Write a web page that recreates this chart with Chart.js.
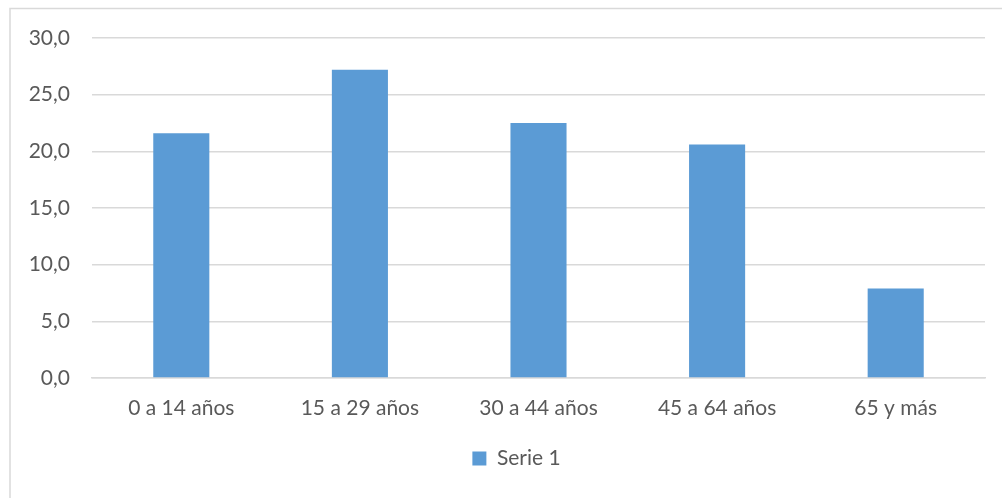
<!DOCTYPE html>
<html><head><meta charset="utf-8">
<script src="https://cdn.jsdelivr.net/npm/chart.js@4"></script>
<style>html,body{margin:0;padding:0;background:#fff;}#wrap{width:1002px;height:498px;position:relative;}</style>
</head><body><div id="wrap"><canvas id="c" width="1002" height="498"></canvas></div>
<script>
const categories = ["0 a 14 años", "15 a 29 años", "30 a 44 años", "45 a 64 años", "65 y más"];
const serie1 = [21.6, 27.2, 22.5, 20.6, 7.9];
const seriesName = "Serie 1";
const yTicks = [0, 5, 10, 15, 20, 25, 30];

const borderPlugin = {
  id: 'outerBorder',
  beforeDraw(chart) {
    const ctx = chart.ctx;
    ctx.save();
    ctx.fillStyle = '#fff';
    ctx.fillRect(0, 0, chart.width, chart.height);
    ctx.strokeStyle = '#d9d9d9';
    ctx.lineWidth = 1.5;
    ctx.strokeRect(10, 8.5, 1010, 520);
    ctx.restore();
  },
  afterLayout(chart) {
    if (chart.legend) { chart.legend.left += 24; chart.legend.right += 24; }
  }
};

const FONT = "Lato, 'Open Sans', sans-serif";
new Chart(document.getElementById('c'), {
  type: 'bar',
  data: {
    labels: categories,
    datasets: [{
      label: seriesName,
      data: serie1,
      backgroundColor: '#5b9bd5',
      borderWidth: 0,
      categoryPercentage: 1,
      barPercentage: 0.314
    }]
  },
  options: {
    responsive: false,
    animation: false,
    devicePixelRatio: 1,
    layout: { padding: { top: 38, right: 17, left: 0, bottom: 19 } },
    plugins: {
      legend: {
        position: 'bottom',
        labels: {
          font: { family: FONT, size: 21 },
          color: '#595959',
          boxWidth: 14, boxHeight: 14,
          padding: 10
        }
      },
      tooltip: { enabled: false }
    },
    scales: {
      x: {
        grid: { display: false },
        border: { color: '#d9d9d9', width: 1.5 },
        ticks: { font: { family: FONT, size: 21 }, color: '#595959', padding: 10 },
        afterFit(s) { s.height = 60; }
      },
      y: {
        min: 0, max: 30,
        afterBuildTicks(s) { s.ticks = yTicks.map(v => ({ value: v })); },
        grid: { color: '#d9d9d9', lineWidth: 1.5, drawTicks: false },
        border: { display: false },
        ticks: {
          font: { family: FONT, size: 21 }, color: '#595959', padding: 22,
          callback: v => v.toFixed(1).replace('.', ',')
        },
        afterFit(s) { s.width = 92; }
      }
    }
  },
  plugins: [borderPlugin]
});
</script></body></html>
